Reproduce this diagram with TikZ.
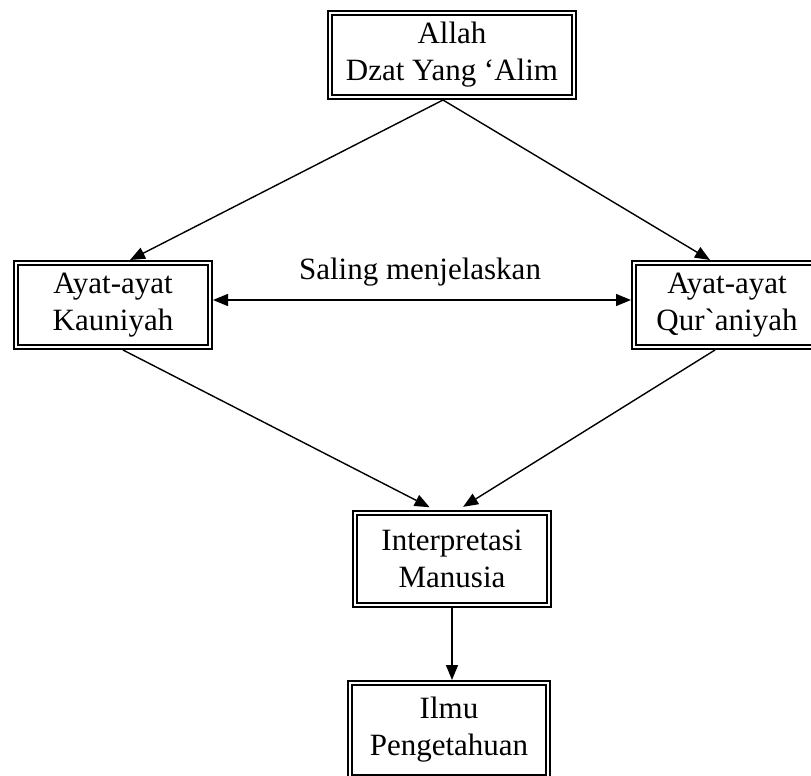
\documentclass[tikz,border=0pt]{standalone}
\usepackage{fontspec}
\newfontfamily\timesfont{Liberation Serif}
\usetikzlibrary{arrows.meta}

\tikzset{
    dbox/.style={draw, line width=2.2pt, double=white, double distance=1.6pt,
        outer sep=3pt, inner sep=0pt, align=center,
        font=\timesfont\fontsize{31}{37}\selectfont},
    link/.style={line width=1.4pt, -{Triangle[length=15pt,width=12pt]}},
}

\begin{document}
\begin{tikzpicture}[x=1pt,y=-1pt]
    \useasboundingbox (0,0) rectangle (811,776);

    % the boxes
    \node[dbox, minimum width=244pt, minimum height=84pt] (allah) at (452,55) {Allah\\Dzat Yang ‘Alim};
    \node[dbox, minimum width=194pt, minimum height=84pt] (kauniyah) at (113,305) {Ayat-ayat\\Kauniyah};
    \node[dbox, minimum width=186pt, minimum height=84pt] (quraniyah) at (727,305) {Ayat-ayat\\Qur`aniyah};
    \node[dbox, minimum width=194pt, minimum height=92pt] (interpretasi) at (452,559) {Interpretasi\\Manusia};
    \node[dbox, minimum width=198pt, minimum height=94pt] (ilmu) at (449,730) {Ilmu\\Pengetahuan};

    \node[font=\timesfont\fontsize{31}{37}\selectfont] (saling) at (420,272) {Saling menjelaskan};

    % arrows
    \draw[link] ([xshift=-9pt]allah.south) -- ([xshift=17pt]kauniyah.north);
    \draw[link] ([xshift=-9pt]allah.south) -- ([xshift=-17pt]quraniyah.north);
    \draw[link, {Triangle[length=15pt,width=12pt]}-{Triangle[length=15pt,width=12pt]}]
        ([yshift=5pt]kauniyah.east) -- ([yshift=5pt]quraniyah.west);
    \draw[link, shorten >=6pt] ([xshift=10pt]kauniyah.south) -- ([xshift=-17pt]interpretasi.north);
    \draw[link, shorten >=6pt] ([xshift=-12pt]quraniyah.south) -- ([xshift=6pt]interpretasi.north);
    \draw[link] (interpretasi.south) -- ([xshift=3pt]ilmu.north);
\end{tikzpicture}
\end{document}
